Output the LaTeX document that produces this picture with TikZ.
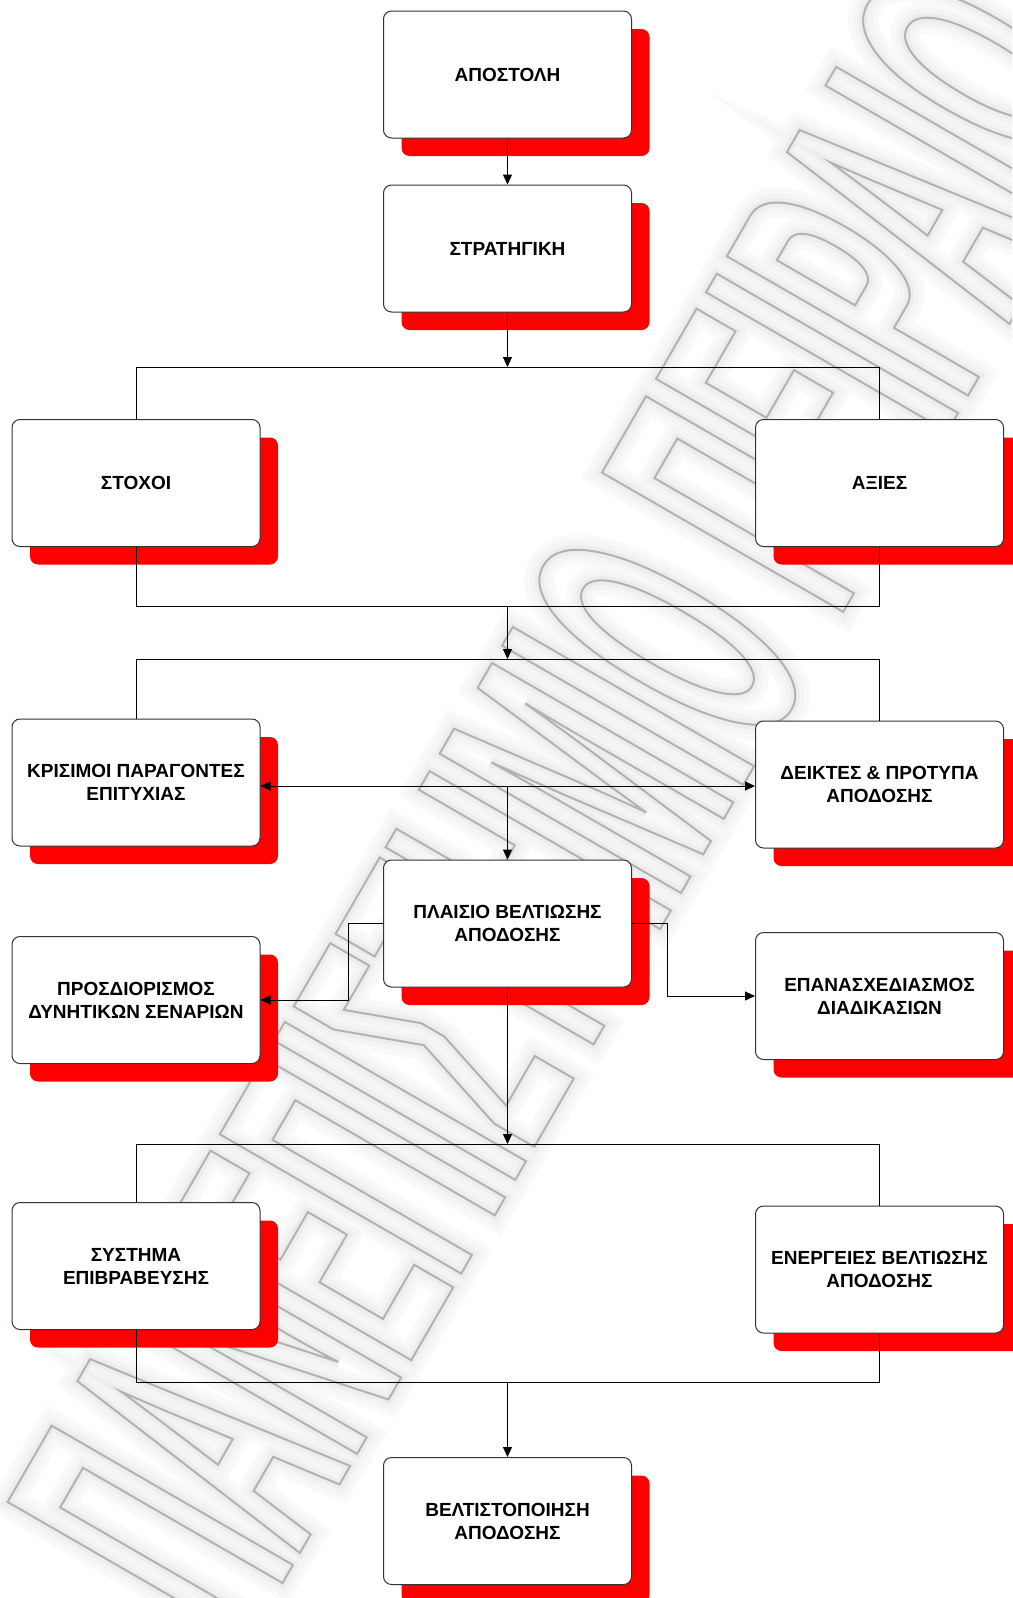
\documentclass[tikz,border=0pt]{standalone}
\usepackage{fontspec}
\setmainfont{Liberation Sans}
\newfontfamily\wmfont{Liberation Sans Bold}[FakeStretch=0.37]
\usetikzlibrary{arrows.meta,shadows}

% stroke-only glyphs of a given pen width, for the hollow watermark lettering
\newcommand\strokedtext[2]{\special{pdf:literal direct 1 Tr #1 w}#2}
\newcommand\wmwords{ΠΑΝΕΠΙΣΤΗΜΙΟ ΠΕΙΡΑΙΩΣ}

\tikzset{
  box/.style={draw=black!80, line width=1pt, fill=white, rounded corners=8pt,
    minimum width=248pt, minimum height=127pt, inner sep=0pt, align=center,
    font=\bfseries\fontsize{19}{23}\selectfont,
    general shadow={fill=red, shadow xshift=18pt, shadow yshift=-18pt}},
  wire/.style={draw=black, line width=1pt},
  arr/.style={wire, -{Triangle[length=10pt,width=9pt]}},
  darr/.style={wire, {Triangle[length=10pt,width=9pt]}-{Triangle[length=10pt,width=9pt]}},
  wmark/.style={rotate=60, inner sep=0pt, anchor=center,
    font=\wmfont\fontsize{405}{405}\selectfont},
}

\begin{document}
\begin{tikzpicture}[x=1pt,y=-1pt]
\fill[white] (0,0) rectangle (1012,1598);
\useasboundingbox (0,0) rectangle (1012,1598);

% faint university watermark behind the chart: graded soft halo, then thin outline
\begin{scope}
  \clip (0,0) rectangle (1012,1598);
  \node[wmark] (wm) at (595,763) {%
    {\color{black!2.5}\rlap{\strokedtext{30}{\wmwords}}}%
    {\color{black!4.5}\rlap{\strokedtext{19}{\wmwords}}}%
    {\color{black!7}\rlap{\strokedtext{9}{\wmwords}}}%
    {\color{black!30}\strokedtext{2}{\wmwords}}};
\end{scope}

% boxes
\node[box] (apo)  at (507.5,74.5)  {ΑΠΟΣΤΟΛΗ};
\node[box] (str)  at (507.5,248.5) {ΣΤΡΑΤΗΓΙΚΗ};
\node[box] (sto)  at (136,483)     {ΣΤΟΧΟΙ};
\node[box] (axi)  at (879.5,483)   {ΑΞΙΕΣ};
\node[box] (kri)  at (136,782.5)   {ΚΡΙΣΙΜΟΙ ΠΑΡΑΓΟΝΤΕΣ\\ΕΠΙΤΥΧΙΑΣ};
\node[box] (dei)  at (879.5,784.5) {ΔΕΙΚΤΕΣ \& ΠΡΟΤΥΠΑ\\ΑΠΟΔΟΣΗΣ};
\node[box] (pla)  at (507.5,923.5) {ΠΛΑΙΣΙΟ ΒΕΛΤΙΩΣΗΣ\\ΑΠΟΔΟΣΗΣ};
\node[box] (pro)  at (136,1000)    {ΠΡΟΣΔΙΟΡΙΣΜΟΣ\\ΔΥΝΗΤΙΚΩΝ ΣΕΝΑΡΙΩΝ};
\node[box] (epa)  at (879.5,996)   {ΕΠΑΝΑΣΧΕΔΙΑΣΜΟΣ\\ΔΙΑΔΙΚΑΣΙΩΝ};
\node[box] (sys)  at (136,1266)    {ΣΥΣΤΗΜΑ\\ΕΠΙΒΡΑΒΕΥΣΗΣ};
\node[box] (ene)  at (879.5,1269.5){ΕΝΕΡΓΕΙΕΣ ΒΕΛΤΙΩΣΗΣ\\ΑΠΟΔΟΣΗΣ};
\node[box] (bel)  at (507.5,1521)  {ΒΕΛΤΙΣΤΟΠΟΙΗΣΗ\\ΑΠΟΔΟΣΗΣ};

% junction points
\coordinate (b1) at (507.5,367);
\coordinate (b2) at (507.5,606);
\coordinate (b3) at (507.5,659);
\coordinate (mid) at (507.5,786);
\coordinate (b4) at (507.5,1144);
\coordinate (b5) at (507.5,1382);

% connectors
\draw[arr] (apo) -- (str);
\draw[arr] (str) -- (b1);
\draw[wire] (sto.north) -- (sto.north |- b1) -- (axi.north |- b1) -- (axi.north);
\draw[wire] (sto.south) -- (sto.south |- b2) -- (axi.south |- b2) -- (axi.south);
\draw[arr] (b2) -- (b3);
\draw[wire] (kri.north) -- (kri.north |- b3) -- (dei.north |- b3) -- (dei.north);
\draw[darr] (kri.east |- mid) -- (dei.west |- mid);
\draw[arr] (mid) -- (pla.north);
\draw[arr] (pla.west) -- (348.5,923.5) -- (348.5,1000) -- (pro.east);
\draw[arr] (pla.east) -- (667.5,923.5) -- (667.5,996) -- (epa.west);
\draw[arr] (pla.south) -- (b4);
\draw[wire] (sys.north) -- (sys.north |- b4) -- (ene.north |- b4) -- (ene.north);
\draw[wire] (sys.south) -- (sys.south |- b5) -- (ene.south |- b5) -- (ene.south);
\draw[arr] (b5) -- (bel.north);
\end{tikzpicture}
\end{document}
